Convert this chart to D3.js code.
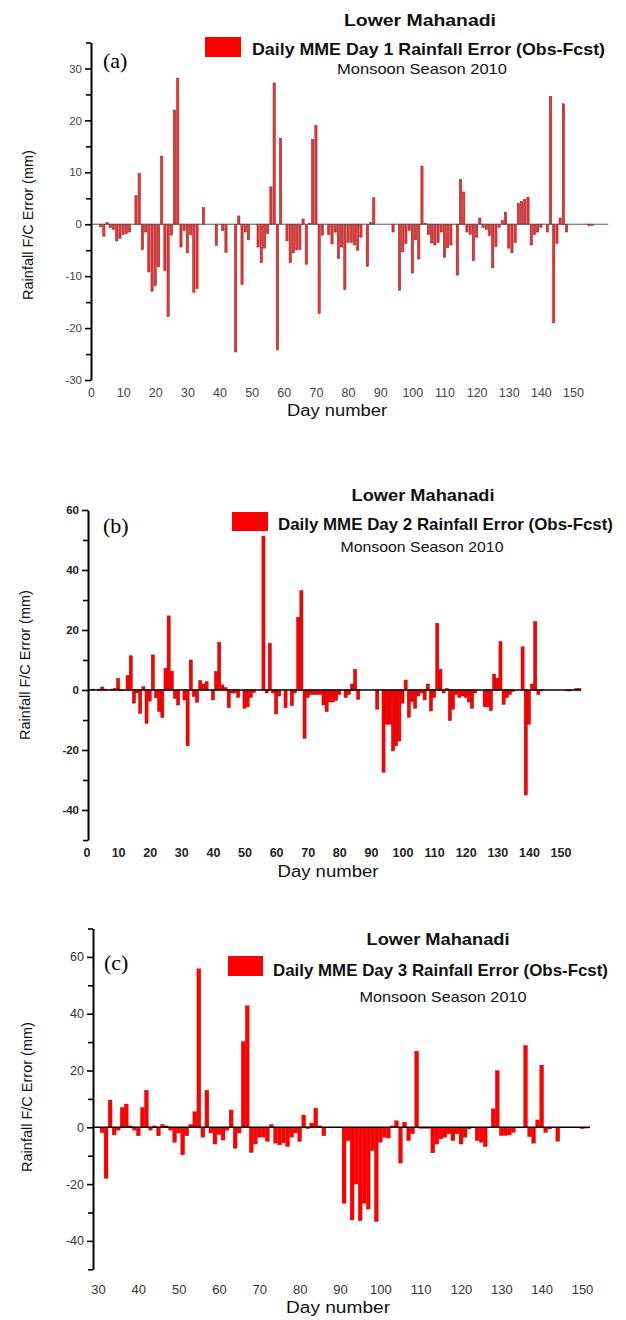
<!DOCTYPE html>
<html lang="en">
<head>
<meta charset="UTF-8">
<title>Lower Mahanadi - Daily MME Rainfall Error</title>
<script src="https://d3js.org/d3.v7.min.js"></script>
<style>
  body { margin: 0; background: #fff; }
  svg { display: block; font-family: "Liberation Sans", Arial, sans-serif; }
</style>
</head>
<body>
<svg width="626" height="1320"></svg>
<script>
// Daily MME rainfall error (Obs - Fcst) in mm, one value per day
// 0 = no bar drawn that day

// Day 1 forecast, days 1..156
const firstDayA = 1;
const errDay1 = [
  0, 0, -0.5, -2.3, 0.3, -0.7, -1.0, -3.2, -2.7, -2.0,
  -1.8, -1.5, 0, 5.5, 9.8, -4.9, -1.5, -9.2, -12.9, -11.8,
  -8.2, 13.1, -8.9, -17.8, -2.1, 22.0, 28.1, -4.4, -1.2, -5.5,
  -2.0, -13.1, -12.4, 0, 3.2, 0, 0, 0, -4.1, 0,
  -1.2, -5.4, 0, 0, -24.6, 1.6, -11.6, -1.5, -3.0, 0,
  0, -4.4, -7.4, -4.6, -1.8, 7.2, 27.2, -24.2, 16.5, 0,
  -3.2, -7.4, -5.5, -4.9, -4.9, 1.0, -7.7, 0.2, 16.3, 19.0,
  -17.2, -2.1, 0, -2.0, -3.8, -1.5, -6.6, -4.4, -12.6, -3.5,
  -3.5, -4.0, -5.0, -2.5, 0, -8.1, 0.3, 5.1, 0, 0,
  0, 0, 0, -1.5, 0, -12.7, -5.3, -3.7, -1.2, -9.4,
  -3.0, -6.7, 11.2, 0.2, -2.0, -3.6, -4.0, -3.5, -1.5, -6.4,
  -4.5, -4.0, 0, -9.8, 8.6, 6.2, -1.5, -2.0, -7.0, -2.5,
  1.2, -0.6, -1.0, -2.2, -8.4, -4.3, -0.6, 0.7, 2.3, -4.6,
  -5.5, -3.5, 4.0, 4.4, 4.8, 5.2, -4.0, -2.0, -1.5, -0.6,
  0, -1.5, 24.6, -19.0, -3.7, 1.2, 23.2, -1.5, 0, 0,
  0, 0, 0, 0, -0.3, -0.2
];

// Day 2 forecast, days 1..156
const firstDayB = 1;
const errDay2 = [
  0, 0.3, 0, 0.3, 1.0, 0.3, 0, 0.3, 0.5, 3.9,
  -0.3, 0, 4.8, 11.4, -4.4, -1.0, -7.8, 1.1, -11.1, -3.7,
  11.7, -2.6, -7.2, -9.2, 7.2, 24.7, 6.3, -2.8, -5.0, 0,
  -3.3, -18.6, 10.0, -2.2, -4.1, 3.1, 2.0, 2.8, 0, -3.3,
  6.1, 15.8, 1.7, 0.8, -5.9, -1.0, -1.0, -2.5, 0, -6.1,
  -5.6, -2.5, -0.8, 0, 0, 51.3, -1.0, 15.6, -1.0, -8.0,
  -2.0, 0, -5.9, 0, -5.2, -1.0, 24.2, 33.1, -16.1, -2.5,
  -1.5, -1.5, -1.5, -1.5, -5.0, -7.2, -4.0, -4.0, -3.5, -1.5,
  0, -2.5, -1.5, 2.0, 6.9, -3.1, 0, 0, 0, 0,
  0, -6.4, 0, -27.4, -11.4, -11.4, -20.3, -18.6, -17.0, -4.4,
  3.3, -9.1, -3.9, -6.1, -2.0, -1.0, -3.3, 2.0, -7.0, -2.5,
  22.2, 6.9, -1.0, 0.5, -10.2, -6.4, -1.5, -2.5, -2.0, -2.5,
  -4.0, -6.1, -1.0, 0, 0, -5.6, -5.6, -6.9, 5.3, 3.9,
  16.1, -4.8, -2.5, -1.5, -0.5, 0, 0, 14.4, -35.0, -11.4,
  2.0, 22.8, -1.5, -0.3, 0, 0, 0, 0, 0, 0,
  0, -0.3, -0.3, 0, 0.5, 0.5
];

// Day 3 forecast, days 31..151
const firstDayC = 31;
const errDay3 = [
  -1.9, -18.0, 9.6, -2.7, -1.0, 7.0, 8.2, 0.5, -1.0, -3.0,
  7.0, 13.1, -1.0, 0.5, -3.0, 1.0, 0.5, -1.0, -5.3, -2.0,
  -9.7, -3.0, 1.0, 5.5, 55.8, -3.5, 13.1, -2.0, -5.9, -2.5,
  -4.5, -1.0, 6.1, -7.4, -2.0, 30.2, 42.8, -8.9, -5.9, -3.5,
  -3.5, -5.0, 1.0, -5.6, -6.2, -5.5, -6.8, -3.5, -2.0, -5.0,
  4.3, -0.5, 1.5, 6.7, 0.5, -3.0, 0, 0, 0, 0,
  -26.8, -4.7, -32.6, -20.0, -32.9, -26.8, -28.8, -8.2, -33.2, -5.3,
  -3.5, -3.8, 0.5, 2.3, -12.6, 1.8, -4.7, -2.3, 26.8, -0.4,
  -0.4, -0.4, -9.0, -5.9, -4.1, -3.5, -2.3, -4.7, -2.3, -5.9,
  -3.5, -0.6, 0, -4.7, -5.3, -6.8, -0.2, 6.5, 20.0, -2.9,
  -2.9, -2.7, -1.8, -0.2, -0.2, 28.8, -3.3, -5.6, 2.6, 21.9,
  -1.8, -0.6, 0, -4.9, 0, 0, 0, 0, 0, -0.5,
  -0.3
];

// tick values
const dayTicksAB = [0, 10, 20, 30, 40, 50, 60, 70, 80, 90, 100, 110, 120, 130, 140, 150];
const dayTicksC = [30, 40, 50, 60, 70, 80, 90, 100, 110, 120, 130, 140, 150];
const yTicksA = [-30, -20, -10, 0, 10, 20, 30];
const yMinorA = [-25, -15, -5, 5, 15, 25, 35];
const yTicksB = [-40, -20, 0, 20, 40, 60];
const yMinorB = [-50, -30, -10, 10, 30, 50];
const yTicksC = [-40, -20, 0, 20, 40, 60];
const yMinorC = [-50, -30, -10, 10, 30, 50, 70];

const narrow = "'Liberation Sans Narrow', 'Liberation Sans', Arial, sans-serif";

const panels = [
  {
    tag: "(a)", lead: "1", first: firstDayA, values: errDay1,
    xDomain: [0, 150], xRange: [91, 573], xTicks: dayTicksAB,
    yDomain: [-30, 35], yRange: [380, 42.5], yTicks: yTicksA, yMinor: yMinorA,
    axisX: 91, zeroTo: 161,
    bar: { w: 2.2, fill: "#e4393b", stroke: "#a81c1c", sw: 0.6 },
    zero: { color: "#555", w: 1 },
    yFont: { size: 11.5, weight: "normal", color: "#444" },
    xFont: { size: 12.5, weight: "normal", color: "#444" },
    xLabelBase: 397, dayLabel: { x: 337, y: 416, w: 100 },
    yTitle: { x: 28, y: 225 },
    title: { x: 420, y: 26, w: 152 },
    legend: { x: 205, y: 37, w: 36, h: 20, tx: 252, ty: 55, tw: 353 },
    season: { x: 422, y: 74, w: 170 },
    tagPos: { x: 103, y: 68 }
  },
  {
    tag: "(b)", lead: "2", first: firstDayB, values: errDay2,
    xDomain: [0, 150], xRange: [86.5, 560.5], xTicks: dayTicksAB,
    yDomain: [-50, 60], yRange: [840, 510], yTicks: yTicksB, yMinor: yMinorB,
    axisX: 88, zeroTo: 156.5,
    bar: { w: 3.1, fill: "#ff0000", stroke: "#b00000", sw: 0.5 },
    zero: { color: "#000", w: 1.6 },
    yFont: { size: 11.5, weight: "bold", color: "#222" },
    xFont: { size: 12.5, weight: "bold", color: "#222" },
    xLabelBase: 857, dayLabel: { x: 328, y: 877, w: 101 },
    yTitle: { x: 25, y: 665 },
    title: { x: 423, y: 501, w: 143 },
    legend: { x: 232, y: 512, w: 36, h: 19, tx: 278, ty: 530, tw: 335 },
    season: { x: 422, y: 552, w: 163 },
    tagPos: { x: 103, y: 533 }
  },
  {
    tag: "(c)", lead: "3", first: firstDayC, values: errDay3,
    xDomain: [30, 150], xRange: [98, 582], xTicks: dayTicksC,
    yDomain: [-50, 70], yRange: [1269.3, 928.5], yTicks: yTicksC, yMinor: yMinorC,
    axisX: 93, zeroTo: 152,
    bar: { w: 3.9, fill: "#ff0000", stroke: "#d00000", sw: 0.3 },
    zero: { color: "#000", w: 1.4 },
    yFont: { size: 12.5, weight: "normal", color: "#333" },
    xFont: { size: 13, weight: "normal", color: "#333" },
    xLabelBase: 1294, dayLabel: { x: 338, y: 1313, w: 104 },
    yTitle: { x: 27, y: 1097 },
    title: { x: 438, y: 945, w: 143 },
    legend: { x: 228, y: 956, w: 35, h: 20, tx: 273, ty: 976, tw: 335 },
    season: { x: 443, y: 1002, w: 167 },
    tagPos: { x: 104, y: 970 }
  }
];

const svg = d3.select("svg");

function drawPanel(p) {
  const g = svg.append("g");
  const x = d3.scaleLinear().domain(p.xDomain).range(p.xRange);
  const y = d3.scaleLinear().domain(p.yDomain).range(p.yRange);

  const data = p.values
    .map((v, i) => ({ day: p.first + i, v: v }))
    .filter(d => d.v !== 0);

  // bars
  g.append("g").selectAll("rect")
    .data(data)
    .join("rect")
    .attr("x", d => x(d.day) - p.bar.w / 2)
    .attr("y", d => y(Math.max(0, d.v)))
    .attr("width", p.bar.w)
    .attr("height", d => Math.abs(y(d.v) - y(0)))
    .attr("fill", p.bar.fill)
    .attr("stroke", p.bar.stroke)
    .attr("stroke-width", p.bar.sw);

  // zero line
  g.append("line")
    .attr("x1", p.axisX).attr("x2", x(p.zeroTo))
    .attr("y1", y(0)).attr("y2", y(0))
    .attr("stroke", p.zero.color)
    .attr("stroke-width", p.zero.w);

  // y axis, major + minor ticks
  const ga = g.append("g")
    .attr("transform", `translate(${p.axisX},0)`)
    .call(d3.axisLeft(y).tickValues(p.yTicks).tickSize(6).tickSizeOuter(0)
      .tickPadding(3).tickFormat(d => String(d)));
  ga.select(".domain").attr("stroke", "#000").attr("stroke-width", 2);
  ga.selectAll(".tick line").attr("stroke", "#000").attr("stroke-width", 1.6);
  ga.selectAll(".tick text")
    .style("font-family", narrow)
    .attr("font-size", p.yFont.size)
    .attr("font-weight", p.yFont.weight)
    .attr("fill", p.yFont.color);

  g.append("g")
    .attr("transform", `translate(${p.axisX},0)`)
    .call(d3.axisLeft(y).tickValues(p.yMinor).tickSize(5).tickFormat(""))
    .call(a => a.select(".domain").remove())
    .selectAll(".tick line").attr("stroke", "#000").attr("stroke-width", 1.6);

  // x tick labels (no axis line in the original)
  const gx = g.append("g")
    .attr("transform", `translate(0,${p.xLabelBase - 0.71 * p.xFont.size})`)
    .call(d3.axisBottom(x).tickValues(p.xTicks).tickSize(0).tickPadding(0));
  gx.select(".domain").remove();
  gx.selectAll(".tick text")
    .style("font-family", narrow)
    .attr("font-size", p.xFont.size)
    .attr("font-weight", p.xFont.weight)
    .attr("fill", p.xFont.color);

  // axis titles
  g.append("text")
    .attr("x", p.dayLabel.x).attr("y", p.dayLabel.y)
    .attr("text-anchor", "middle")
    .attr("font-size", 16)
    .attr("textLength", p.dayLabel.w)
    .attr("lengthAdjust", "spacingAndGlyphs")
    .attr("fill", "#111")
    .text("Day number");

  g.append("text")
    .attr("transform", `translate(${p.yTitle.x},${p.yTitle.y}) rotate(-90)`)
    .attr("text-anchor", "middle")
    .attr("dominant-baseline", "central")
    .attr("font-size", 14.5)
    .attr("fill", "#111")
    .text("Rainfall F/C Error (mm)");

  // title block
  g.append("text")
    .attr("x", p.title.x).attr("y", p.title.y)
    .attr("text-anchor", "middle")
    .attr("font-size", 17).attr("font-weight", "bold")
    .attr("textLength", p.title.w).attr("lengthAdjust", "spacingAndGlyphs")
    .attr("fill", "#111")
    .text("Lower Mahanadi");

  g.append("rect")
    .attr("x", p.legend.x).attr("y", p.legend.y)
    .attr("width", p.legend.w).attr("height", p.legend.h)
    .attr("fill", "#ff0000");

  g.append("text")
    .attr("x", p.legend.tx).attr("y", p.legend.ty)
    .attr("font-size", 17).attr("font-weight", "bold")
    .attr("textLength", p.legend.tw).attr("lengthAdjust", "spacingAndGlyphs")
    .attr("fill", "#111")
    .text(`Daily MME Day ${p.lead} Rainfall Error (Obs-Fcst)`);

  g.append("text")
    .attr("x", p.season.x).attr("y", p.season.y)
    .attr("text-anchor", "middle")
    .attr("font-size", 15)
    .attr("textLength", p.season.w).attr("lengthAdjust", "spacingAndGlyphs")
    .attr("fill", "#111")
    .text("Monsoon Season 2010");

  // panel letter
  g.append("text")
    .attr("x", p.tagPos.x).attr("y", p.tagPos.y)
    .style("font-family", "'Liberation Serif', 'Times New Roman', serif")
    .attr("font-size", 22)
    .attr("fill", "#000")
    .text(p.tag);
}

panels.forEach(drawPanel);
</script>
</body>
</html>
